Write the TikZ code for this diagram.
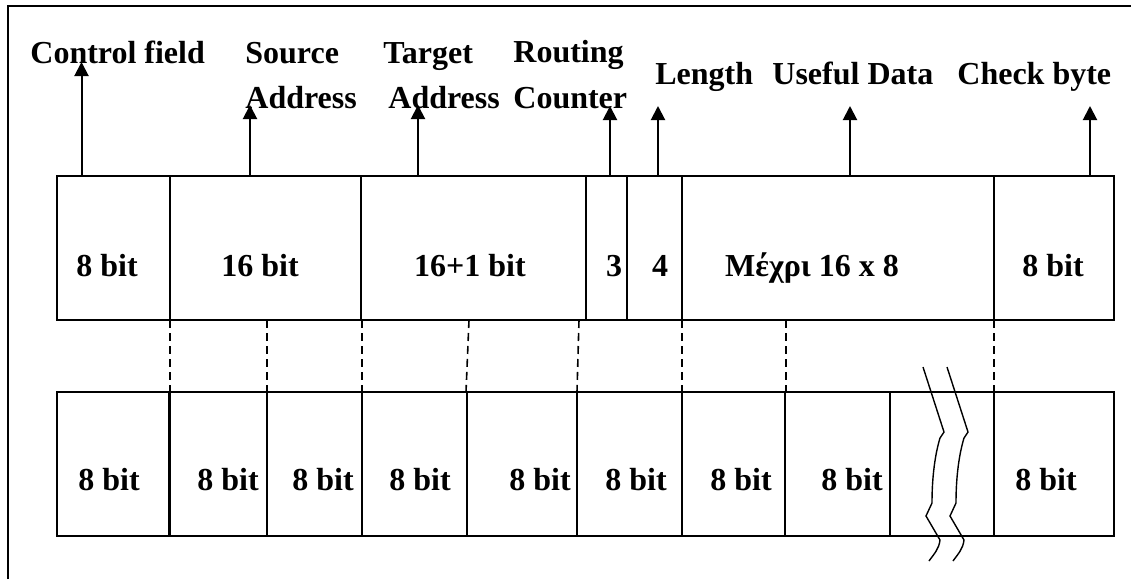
\documentclass[tikz,border=0pt]{standalone}
\usepackage{fontspec}
\setmainfont{Liberation Serif}
\usetikzlibrary{arrows.meta}

\begin{document}
\begin{tikzpicture}[x=0.5pt,y=-0.5pt,
    box/.style={line width=1.1pt},
    arr/.style={line width=1pt,-{Triangle[length=7pt,width=7pt]}},
    gap/.style={line width=0.8pt,dash pattern=on 4pt off 2.5pt},
    brk/.style={line width=0.7pt},
    lbl/.style={anchor=base west,inner sep=0pt,font=\fontsize{16}{19}\selectfont\bfseries},
    txt/.style={anchor=base,inner sep=0pt,font=\fontsize{16}{19}\selectfont\bfseries}]
    \useasboundingbox (0,0) rectangle (1131,579);
    \fill[white] (0,0) rectangle (1131,579);
    % Drawing frame
    \draw[line width=1.4pt] (8,579) -- (8,6) -- (1131,6);
    % Drawing upper row
    \foreach \a/\b in {57/170,170/361,361/586,586/627,627/682,682/994,994/1114}{
      \draw[box] (\a,176) rectangle (\b,320);
    }
    \foreach \x/\t [count=\i] in {107/8 bit,260/16 bit,470/16+1 bit,614/3,660/4,812/Μέχρι 16 x 8,1053/8 bit}{
      \node[txt] (up\i) at (\x,276) {\t};
    }
    % Drawing lower row
    \foreach \a/\b in {57/169.5,169.5/267,267/362,362/467,467/577,577/682,682/785,785/890,890/994,994/1114}{
      \draw[box] (\a,392) rectangle (\b,536);
    }
    \foreach \x [count=\i] in {109,228,323,420,540,636,741,852,1046}{
      \node[txt] (low\i) at (\x,490) {8 bit};
    }
    % Dashed links between rows
    \foreach \a/\b [count=\i] in {170/170,267/267,362/362,469/466,579/577,682/682,786/786,994/994}{
      \coordinate (dt\i) at (\a,320);
      \coordinate (db\i) at (\b,392);
      \draw[gap] (dt\i) -- (db\i);
    }
    % Field names
    \node[lbl] (ctl) at (30,63) {Control field};
    \node[lbl] (src) at (245,63) {Source};
    \node[lbl] (srcb) at (245,108) {Address};
    \node[lbl] (tgt) at (383,63) {Target};
    \node[lbl] (tgtb) at (388,108) {Address};
    \node[lbl] (rtg) at (513,62) {Routing};
    \node[lbl] (rtgb) at (513,108) {Counter};
    \node[lbl] (len) at (655,84) {Length};
    \node[lbl] (dat) at (772,84) {Useful Data};
    \node[lbl] (chk) at (957,84) {Check byte};
    % Arrows up to the names
    \foreach \x/\t [count=\i] in {81.5/62,250/105,418/105,610/106,658/106,850/106,1090/106}{
      \coordinate (foot\i) at (\x,176);
      \coordinate (tip\i) at (\x,\t);
      \draw[arr] (foot\i) -- (tip\i);
    }
    % Break marks
    \foreach \s in {0,24}{
      \draw[brk,shift={(\s,0)}] (923,367) -- (944,432) -- (940,438)
        .. controls (934,458) and (932,482) .. (932,503) -- (926,516) -- (940,540)
        .. controls (939,549) and (934,554) .. (929,561);
    }
\end{tikzpicture}
\end{document}
